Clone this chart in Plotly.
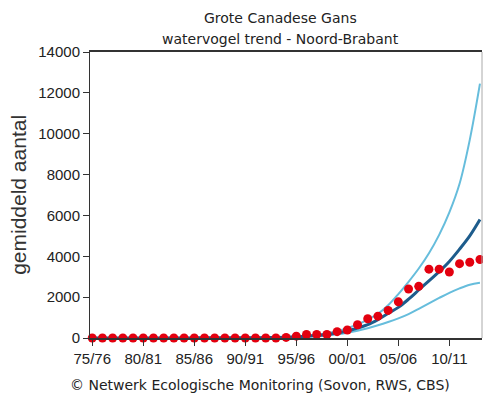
import plotly.graph_objects as go

years = list(range(1975, 2014))
tick_years = [1975, 1980, 1985, 1990, 1995, 2000, 2005, 2010]
tick_labels = ["75/76", "80/81", "85/86", "90/91", "95/96", "00/01", "05/06", "10/11"]

counts = [0, 0, 0, 0, 0, 0, 0, 0, 0, 0,
          0, 0, 0, 0, 0, 0, 0, 0, 0, 30,
          90, 170, 170, 170, 310, 390, 650, 940, 1070, 1350,
          1770, 2400, 2530, 3370, 3370, 3230, 3640, 3710, 3840]

trend = [2, 2, 2, 3, 3, 3, 4, 4, 5, 5,
         6, 7, 8, 9, 10, 11, 13, 19, 28, 40,
         60, 85, 120, 170, 240, 340, 480, 650, 900, 1200,
         1500, 1900, 2350, 2800, 3250, 3750, 4350, 5000, 5800]

upper = [3, 3, 3, 4, 4, 5, 5, 6, 7, 8,
         9, 10, 12, 13, 15, 17, 21, 29, 40, 55,
         75, 110, 160, 235, 340, 480, 660, 900, 1180, 1600,
         2150, 2750, 3400, 4150, 5050, 6150, 7550, 9700, 12450]

lower = [1, 1, 1, 2, 2, 2, 2, 3, 3, 3,
         4, 4, 5, 5, 6, 7, 8, 12, 18, 26,
         38, 55, 85, 125, 180, 260, 360, 480, 620, 780,
         960, 1170, 1430, 1700, 1960, 2210, 2430, 2610, 2700]

light = "#66bddc"
dark = "#1d5c8c"

fig = go.Figure()
fig.add_trace(go.Scatter(x=years, y=upper, mode="lines", line=dict(color=light, width=2, shape="spline"),
                         hoverinfo="skip", cliponaxis=False))
fig.add_trace(go.Scatter(x=years, y=lower, mode="lines", line=dict(color=light, width=2, shape="spline"),
                         hoverinfo="skip", cliponaxis=False))
fig.add_trace(go.Scatter(x=years, y=trend, mode="lines", line=dict(color=dark, width=3, shape="spline"),
                         hoverinfo="skip", cliponaxis=False))
fig.add_trace(go.Scatter(x=years, y=counts, mode="markers",
                         marker=dict(color="#e3000f", size=9, line=dict(width=0)),
                         cliponaxis=False))

fig.update_layout(
    width=483, height=396,
    margin=dict(l=90, r=1, t=52, b=58),
    paper_bgcolor="white", plot_bgcolor="white",
    showlegend=False,
    xaxis=dict(range=[1974.78, 2013.2], tickvals=tick_years, ticktext=tick_labels,
               showgrid=False, zeroline=False, showline=True, linecolor="#333333", linewidth=2,
               mirror=True, ticks="outside", ticklen=6, tickcolor="#333333", tickwidth=1,
               tickfont=dict(family="Liberation Sans, Arial", size=15, color="#222222")),
    yaxis=dict(range=[0, 14000], tickvals=[0, 2000, 4000, 6000, 8000, 10000, 12000, 14000],
               tickformat="d",
               showgrid=False, zeroline=False, showline=True, linecolor="#333333", linewidth=1,
               ticks="outside", ticklen=6, tickcolor="#333333",
               tickfont=dict(family="Liberation Sans, Arial", size=15, color="#222222")),
    annotations=[
        dict(text="Grote Canadese Gans", xref="paper", yref="paper", x=0.487, y=1.119,
             showarrow=False, xanchor="center", yanchor="middle",
             font=dict(family="DejaVu Sans", size=14, color="#222222")),
        dict(text="watervogel trend - Noord-Brabant", xref="paper", yref="paper", x=0.487, y=1.045,
             showarrow=False, xanchor="center", yanchor="middle",
             font=dict(family="DejaVu Sans", size=14, color="#222222")),
        dict(text="gemiddeld aantal", xref="paper", yref="paper", x=-0.184, y=0.5,
             textangle=-90, showarrow=False, xanchor="center", yanchor="middle",
             font=dict(family="Liberation Sans, Arial", size=21, color="#333333")),
        dict(text="© Netwerk Ecologische Monitoring (Sovon, RWS, CBS)", xref="paper", yref="paper",
             x=(260 - 90) / 392, y=-0.163, showarrow=False, xanchor="center", yanchor="middle",
             font=dict(family="DejaVu Sans", size=14, color="#222222")),
    ],
    shapes=[
        dict(type="line", xref="paper", yref="paper", x0=1, x1=1, y0=0, y1=1,
             line=dict(color="#aaaaaa", width=1)),
    ],
)

fig.write_html("out.html", config={"displayModeBar": False},
               post_script="document.body.style.margin='0';document.body.style.overflow='hidden';")
